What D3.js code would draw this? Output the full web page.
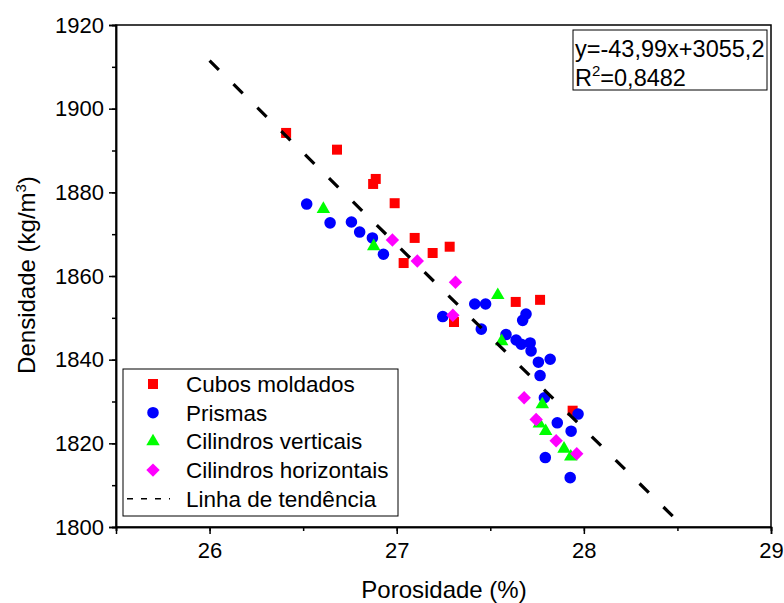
<!DOCTYPE html>
<html>
<head>
<meta charset="utf-8">
<script src="https://cdn.jsdelivr.net/npm/d3@7"></script>
<style>
  html, body { margin: 0; padding: 0; background: #fff; }
  svg { display: block; font-family: "Liberation Sans", Arial, sans-serif; }
</style>
</head>
<body>
<svg id="chart" width="784" height="603"></svg>
<script>
// Porosity (%) vs density (kg/m3) by specimen type
const cubosMoldados = [
  [26.409, 1894.2], [26.681, 1890.2], [26.888, 1883.2], [26.874, 1882.0],
  [26.989, 1877.4], [27.096, 1869.1], [27.192, 1865.5], [27.283, 1867.0],
  [27.037, 1863.1], [27.636, 1853.8], [27.766, 1854.3], [27.306, 1849.0],
  [27.940, 1827.8]
];
const prismas = [
  [26.519, 1877.2], [26.644, 1872.7], [26.758, 1872.9], [26.802, 1870.5],
  [26.870, 1869.1], [26.929, 1865.2], [27.417, 1853.3], [27.475, 1853.3],
  [27.246, 1850.3], [27.691, 1850.9], [27.673, 1849.4], [27.452, 1847.3],
  [27.584, 1846.0], [27.638, 1844.7], [27.665, 1843.7], [27.713, 1844.0],
  [27.718, 1842.1], [27.757, 1839.4], [27.820, 1840.1], [27.766, 1836.2],
  [27.789, 1830.9], [27.969, 1827.0], [27.858, 1824.9], [27.932, 1822.9],
  [27.794, 1816.6], [27.927, 1811.8]
];
const cilindrosVerticais = [
  [26.608, 1876.0], [26.877, 1867.1], [27.540, 1855.4], [27.561, 1844.4],
  [27.778, 1829.3], [27.762, 1824.7], [27.796, 1822.9], [27.894, 1818.7],
  [27.930, 1816.8]
];
const cilindrosHorizontais = [
  [26.977, 1868.6], [27.110, 1863.6], [27.314, 1858.5], [27.300, 1850.6],
  [27.681, 1830.9], [27.745, 1825.7], [27.852, 1820.6], [27.962, 1817.5]
];
// Linear fit: y = -43.99x + 3055.2, drawn over this porosity range
const trendSlope = -43.99;
const trendIntercept = 3055.2;
const trendRange = [26, 28.5];

const xTicks = [26, 27, 28, 29];
const yTicks = [1800, 1820, 1840, 1860, 1880, 1900, 1920];
const legendLabels = ["Cubos moldados", "Prismas", "Cilindros verticais", "Cilindros horizontais", "Linha de tendência"];

const svg = d3.select("#chart");
const plotLeft = 116, plotRight = 771, plotTop = 25, plotBottom = 527;
const fontFamily = "'Liberation Sans', Arial, sans-serif";

const x = d3.scaleLinear().domain([25.5, 29]).range([plotLeft, plotRight]);
const y = d3.scaleLinear().domain([1800, 1920]).range([plotBottom, plotTop]);

// frame
svg.append("rect")
  .attr("x", plotLeft).attr("y", plotTop)
  .attr("width", plotRight - plotLeft).attr("height", plotBottom - plotTop)
  .attr("fill", "none").attr("stroke", "#000").attr("stroke-width", 1.5);

// x axis
svg.append("g").attr("transform", `translate(0,${plotBottom})`)
  .call(d3.axisBottom(x).tickValues(xTicks).tickSize(7).tickPadding(8).tickFormat(d3.format("d")));
svg.append("g").attr("transform", `translate(0,${plotBottom})`)
  .call(d3.axisBottom(x).tickValues(d3.range(25.5, 29.01, 0.5)).tickSize(4).tickFormat(""));

// y axis
svg.append("g").attr("transform", `translate(${plotLeft},0)`)
  .call(d3.axisLeft(y).tickValues(yTicks).tickSize(7).tickPadding(5).tickFormat(d3.format("d")));
svg.append("g").attr("transform", `translate(${plotLeft},0)`)
  .call(d3.axisLeft(y).tickValues(d3.range(1800, 1921, 10)).tickSize(4).tickFormat(""));

svg.selectAll(".domain").attr("stroke", "#000").attr("stroke-width", 1.5);
svg.selectAll(".tick line").attr("stroke", "#000").attr("stroke-width", 1.5);
svg.selectAll(".tick text").attr("fill", "#000").style("font-size", "22px")
  .style("font-family", fontFamily);

// axis titles
svg.append("text")
  .attr("x", (plotLeft + plotRight) / 2 + 0.5).attr("y", 598)
  .attr("text-anchor", "middle").style("font-size", "24px")
  .text("Porosidade (%)");

const yTitle = svg.append("text")
  .attr("transform", `translate(35,${(plotTop + plotBottom) / 2 - 1}) rotate(-90)`)
  .attr("text-anchor", "middle").style("font-size", "24px");
yTitle.append("tspan").text("Densidade (kg/m");
yTitle.append("tspan").attr("dy", -9).style("font-size", "15px").text("3");
yTitle.append("tspan").attr("dy", 9).text(")");

// markers
const markerSymbols = {
  square: d3.symbol().type(d3.symbolSquare).size(100),
  circle: d3.symbol().type(d3.symbolCircle).size(105),
  triangle: d3.symbol().type(d3.symbolTriangle).size(78),
  diamond: d3.symbol().type(d3.symbolSquare).size(90)
};

function drawSeries(data, shape, color, rotate) {
  svg.append("g").selectAll("path").data(data).join("path")
    .attr("d", markerSymbols[shape])
    .attr("transform", d => `translate(${x(d[0])},${y(d[1])})` + (rotate ? " rotate(45)" : ""))
    .attr("fill", color);
}

drawSeries(cubosMoldados, "square", "#ff0000", false);
drawSeries(prismas, "circle", "#0000ff", false);
drawSeries(cilindrosVerticais, "triangle", "#00ff00", false);
drawSeries(cilindrosHorizontais, "diamond", "#ff00ff", true);

// trend line
svg.append("line")
  .attr("x1", x(trendRange[0])).attr("y1", y(trendSlope * trendRange[0] + trendIntercept))
  .attr("x2", x(trendRange[1])).attr("y2", y(trendSlope * trendRange[1] + trendIntercept))
  .attr("stroke", "#000").attr("stroke-width", 3.2)
  .attr("stroke-dasharray", "13,20.5");

// equation box
svg.append("rect").attr("x", 573).attr("y", 30).attr("width", 194).attr("height", 60)
  .attr("fill", "#fff").attr("stroke", "#000").attr("stroke-width", 1);
svg.append("text").attr("x", 575).attr("y", 57).style("font-size", "23.5px")
  .text("y=-43,99x+3055,2");
const r2 = svg.append("text").attr("x", 575).attr("y", 86).style("font-size", "23.5px");
r2.append("tspan").text("R");
r2.append("tspan").attr("dy", -10).style("font-size", "15px").text("2");
r2.append("tspan").attr("dy", 10).text("=0,8482");

// legend
const legend = svg.append("g");
legend.append("rect").attr("x", 123).attr("y", 369).attr("width", 275).attr("height", 147)
  .attr("fill", "#fff").attr("stroke", "#000").attr("stroke-width", 1);
const legendShapes = [
  ["square", "#ff0000", false], ["circle", "#0000ff", false],
  ["triangle", "#00ff00", false], ["diamond", "#ff00ff", true]
];
const rowY = i => 384 + i * 28.7;
legendLabels.forEach((label, i) => {
  if (i < 4) {
    const [shape, color, rot] = legendShapes[i];
    legend.append("path").attr("d", markerSymbols[shape])
      .attr("transform", `translate(153,${rowY(i)})` + (rot ? " rotate(45)" : ""))
      .attr("fill", color);
  } else {
    legend.append("line").attr("x1", 127).attr("x2", 170)
      .attr("y1", rowY(i)).attr("y2", rowY(i))
      .attr("stroke", "#000").attr("stroke-width", 1.5).attr("stroke-dasharray", "6,8");
  }
  legend.append("text").attr("x", 186).attr("y", rowY(i) + 8)
    .style("font-size", "22.5px").text(label);
});
</script>
</body>
</html>
